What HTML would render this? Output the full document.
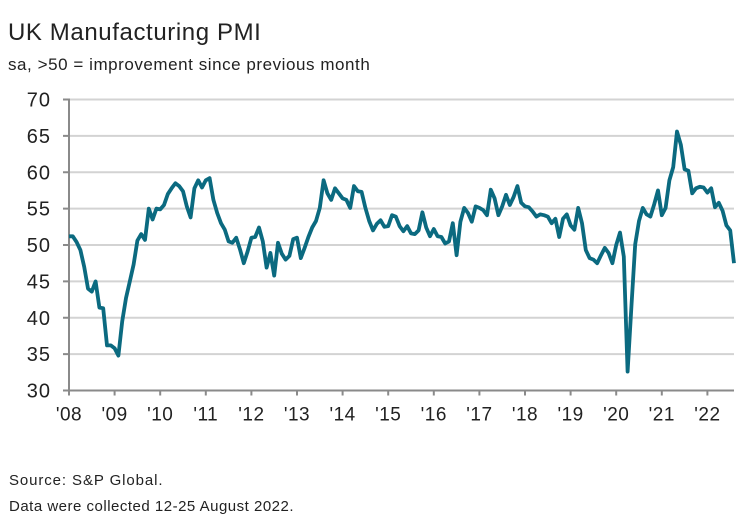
<!DOCTYPE html>
<html><head><meta charset="utf-8"><style>
html,body{margin:0;padding:0;background:#fff;}
body{width:754px;height:519px;position:relative;overflow:hidden;font-family:"Liberation Sans",sans-serif;color:#222;}
.t{position:absolute;white-space:nowrap;}
</style></head><body>
<div class="t" style="left:8px;top:19px;font-size:24px;letter-spacing:0.6px;">UK Manufacturing PMI</div>
<div class="t" style="left:8px;top:55px;font-size:17px;letter-spacing:0.55px;">sa, &gt;50 = improvement since previous month</div>
<svg id="chart" width="754" height="519" style="position:absolute;left:0;top:0;"></svg>
<div class="t" style="left:9px;top:472px;font-size:15px;letter-spacing:0.9px;">Source: S&amp;P Global.</div>
<div class="t" style="left:9px;top:498px;font-size:15px;letter-spacing:0.5px;">Data were collected 12-25 August 2022.</div>
<script>
const yTicks = [30,35,40,45,50,55,60,65,70];
const yearLabels = ["'08","'09","'10","'11","'12","'13","'14","'15","'16","'17","'18","'19","'20","'21","'22"];
const pmi2008_2014 = [
51.2,51.2,50.4,49.3,47.0,44.0,43.6,45.0,41.4,41.3,36.2,36.2,
35.8,34.8,39.5,42.7,45.0,47.3,50.6,51.5,50.7,55.0,53.5,55.0,
54.9,55.5,57.0,57.8,58.5,58.1,57.4,55.3,53.8,57.8,58.9,57.9,
58.9,59.2,56.2,54.4,53.0,52.1,50.5,50.3,51.0,49.4,47.5,49.1,
51.0,51.1,52.4,50.5,46.9,48.9,45.8,50.3,48.8,48.0,48.5,50.8,
51.0,48.2,49.6,51.1,52.4,53.3,55.1,58.9,57.1,56.2,57.8,57.1,
56.4,56.2,55.1,58.1,57.4,57.3,55.1,53.3,52.0,52.9,53.4,52.5];
const pmi2015_2022 = [
52.6,54.1,53.9,52.6,51.9,52.6,51.6,51.5,52.0,54.5,52.4,51.2,
52.2,51.2,51.1,50.2,50.5,53.0,48.6,53.2,55.1,54.4,53.2,55.3,
55.1,54.8,54.1,57.6,56.4,54.1,55.3,56.9,55.5,56.6,58.1,55.8,
55.3,55.2,54.6,53.9,54.2,54.1,53.9,53.0,53.6,51.1,53.6,54.2,
52.7,52.1,55.1,53.0,49.3,48.2,48.0,47.5,48.6,49.6,48.9,47.5,
50.0,51.7,48.4,32.6,41.5,50.1,53.3,55.1,54.2,53.9,55.6,57.5,
54.1,55.1,58.9,60.7,65.6,63.8,60.4,60.2,57.1,57.8,58.0,57.9,
57.2,57.8,55.2,55.8,54.7,52.7,52.0,47.5];
const values = pmi2008_2014.concat(pmi2015_2022);

const NS="http://www.w3.org/2000/svg";
const svg=document.getElementById('chart');
const x0=69, monthW=45.6/12, yTop=99.5, yBot=390.5, right=734;
const xs=m=>x0+m*monthW;
const ys=v=>yBot-(v-30)*(yBot-yTop)/40;
function mk(tag,attrs){const e=document.createElementNS(NS,tag);for(const k in attrs)e.setAttribute(k,attrs[k]);svg.appendChild(e);return e;}
yTicks.forEach(v=>{
  if(v>30){const g=mk('line',{x1:x0,x2:right,y1:ys(v),y2:ys(v),stroke:'#d3d3d3','stroke-width':2});
  
  }
  const tk=mk('line',{x1:x0-6,x2:x0,y1:ys(v),y2:ys(v),stroke:'#8a8a8a','stroke-width':2});
  
  
  const t=mk('text',{x:x0-18,y:ys(v)+7,'text-anchor':'end','font-size':20,'letter-spacing':1,fill:'#222','font-family':'Liberation Sans, sans-serif'});
  t.textContent=v;
  
  
});
const ya=mk('line',{x1:x0,x2:x0,y1:yTop-1,y2:yBot,stroke:'#8a8a8a','stroke-width':2});


const xa=mk('line',{x1:x0,x2:right,y1:yBot,y2:yBot,stroke:'#8a8a8a','stroke-width':2});


yearLabels.forEach((lb,i)=>{
  const x=xs(i*12);
  const tk=mk('line',{x1:x,x2:x,y1:yBot,y2:yBot+5,stroke:'#8a8a8a','stroke-width':2});
  
  
  const t=mk('text',{x:x,y:yBot+30,'text-anchor':'middle','font-size':19,'letter-spacing':0.5,fill:'#222','font-family':'Liberation Sans, sans-serif'});
  t.textContent=lb;
  
  
});
const d=values.map((v,i)=>(i?'L':'M')+xs(i).toFixed(1)+','+ys(v).toFixed(1)).join('');
const p=mk('path',{d:d,fill:'none',stroke:'#0b6a80','stroke-width':3.8,'stroke-linejoin':'round'});


</script>
</body></html>
